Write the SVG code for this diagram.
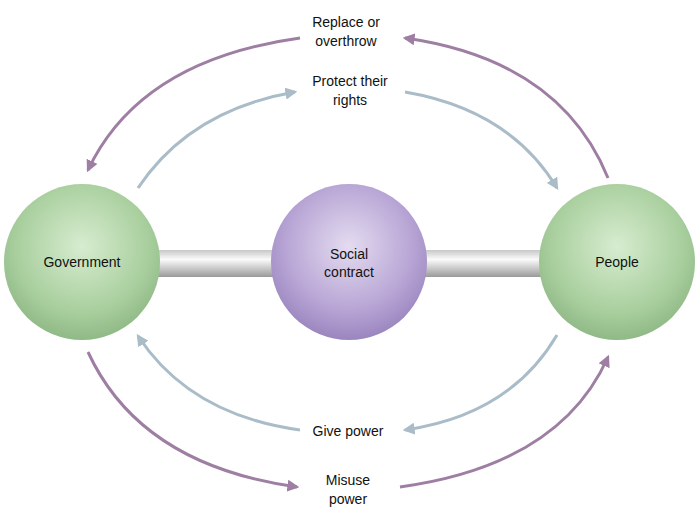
<svg xmlns="http://www.w3.org/2000/svg" width="700" height="525" viewBox="0 0 700 525">
<style>
text{font-family:"Liberation Sans",Arial,sans-serif;font-size:14px;fill:#111;text-anchor:middle}
.p{fill:none;stroke:#9e7fa3;stroke-width:3}
.g{fill:none;stroke:#a9bcc8;stroke-width:3}
</style>
<defs>
<radialGradient id="gr" cx="0.5" cy="0.4" r="0.6"><stop offset="0" stop-color="#d7ecd0"/><stop offset="0.7" stop-color="#a9cf9e"/><stop offset="1" stop-color="#8fb986"/></radialGradient>
<radialGradient id="pu" cx="0.5" cy="0.4" r="0.6"><stop offset="0" stop-color="#e4dcf0"/><stop offset="0.7" stop-color="#b6a3d4"/><stop offset="1" stop-color="#9a86be"/></radialGradient>
<linearGradient id="rod" x1="0" y1="0" x2="0" y2="1"><stop offset="0" stop-color="#c8c8c8"/><stop offset="0.35" stop-color="#fafafa"/><stop offset="1" stop-color="#9a9a9a"/></linearGradient>
<marker id="mp" viewBox="0 0 10 10" refX="8" refY="5" markerWidth="4" markerHeight="4" orient="auto"><path d="M0,0L10,5L0,10z" fill="#9e7fa3"/></marker>
<marker id="mg" viewBox="0 0 10 10" refX="8" refY="5" markerWidth="4" markerHeight="4" orient="auto"><path d="M0,0L10,5L0,10z" fill="#a9bcc8"/></marker>
</defs>
<g id="connectors">
<rect x="150" y="250" width="130" height="27" fill="url(#rod)"/>
<rect x="418" y="250" width="130" height="27" fill="url(#rod)"/>
<path class="p" d="M608,178 Q560,60 405,38" marker-end="url(#mp)"/>
<path class="p" d="M300,38 Q140,60 88,170" marker-end="url(#mp)"/>
<path class="g" d="M138,188 Q190,110 295,92" marker-end="url(#mg)"/>
<path class="g" d="M405,92 Q510,110 557,188" marker-end="url(#mg)"/>
<path class="g" d="M557,335 Q510,415 405,430" marker-end="url(#mg)"/>
<path class="g" d="M300,430 Q190,415 138,336" marker-end="url(#mg)"/>
<path class="p" d="M88,352 Q140,465 297,487" marker-end="url(#mp)"/>
<path class="p" d="M400,487 Q560,465 608,357" marker-end="url(#mp)"/>
</g>
<g id="government"><circle cx="82" cy="262" r="78" fill="url(#gr)"/><text x="82" y="267">Government</text></g>
<g id="social"><circle cx="349" cy="262" r="78" fill="url(#pu)"/><text x="349" y="259">Social</text><text x="349" y="277">contract</text></g>
<g id="people"><circle cx="617" cy="262" r="78" fill="url(#gr)"/><text x="617" y="267">People</text></g>
<g id="labels">
<text x="346" y="27">Replace or</text><text x="346" y="46">overthrow</text>
<text x="350" y="86">Protect their</text><text x="350" y="105">rights</text>
<text x="348" y="436">Give power</text>
<text x="348" y="485">Misuse</text><text x="348" y="504">power</text>
</g>
</svg>
